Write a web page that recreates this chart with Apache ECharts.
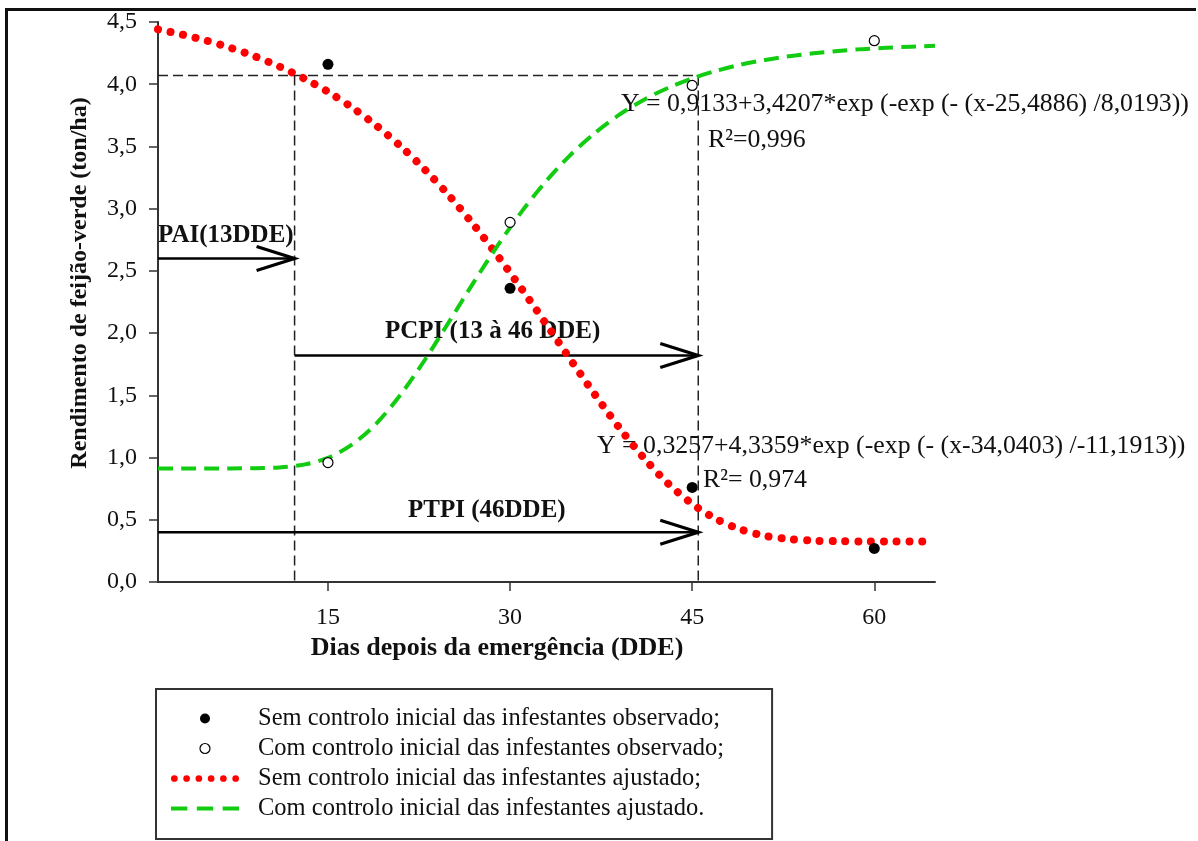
<!DOCTYPE html>
<html>
<head>
<meta charset="utf-8">
<script src="https://cdn.jsdelivr.net/npm/echarts@6/dist/echarts.min.js"></script>
<style>
html,body{margin:0;padding:0;background:#fff;}
#chart{width:1198px;height:841px;}
</style>
</head>
<body>
<div id="chart"></div>
<script>
// ---- data ----
const days = [1,3,5,7,9,11,13,15,17,19,21,23,25,27,29,31,33,35,37,39,41,43,45,47,49,51,53,55,57,59,61,63,65];
const semAjustado = [4.441,4.399,4.350,4.291,4.223,4.142,4.048,3.939,3.812,3.666,3.500,3.312,3.102,2.870,2.618,2.349,2.069,1.784,1.504,1.239,0.999,0.793,0.628,0.505,0.422,0.371,0.345,0.332,0.328,0.326,0.326,0.326,0.326];
const comAjustado = [0.913,0.913,0.913,0.913,0.915,0.921,0.943,0.998,1.105,1.275,1.508,1.788,2.095,2.408,2.707,2.982,3.225,3.434,3.609,3.755,3.874,3.970,4.047,4.108,4.157,4.195,4.225,4.249,4.267,4.282,4.293,4.302,4.309];
const obsDays = [15,30,45,60];
const semObservado = [4.16,2.36,0.76,0.27];
const comObservado = [0.96,2.89,3.99,4.35];
const xTicks = [15,30,45,60];
const yTicks = [0,0.5,1,1.5,2,2.5,3,3.5,4,4.5];
const yTickLabels = ['0,0','0,5','1,0','1,5','2,0','2,5','3,0','3,5','4,0','4,5'];
const seriesNames = [
  'Sem controlo inicial das infestantes observado;',
  'Com controlo inicial das infestantes observado;',
  'Sem controlo inicial das infestantes ajustado;',
  'Com controlo inicial das infestantes ajustado.'
];
// guide lines [x1, y1, x2, y2]
const guideSegments = [[1,4.07,45.5,4.07],[12.25,4.07,12.25,0],[45.5,4.07,45.5,0]];
// arrows [xStart, xEnd, y]
const arrowSegments = [[1,12.25,2.6],[12.25,45.5,1.82],[1,45.5,0.40]];
const annotations = {
  pai: 'PAI(13DDE)',
  pcpi: 'PCPI (13 à 46 DDE)',
  ptpi: 'PTPI (46DDE)',
  eq1: 'Y = 0,9133+3,4207*exp (-exp (- (x-25,4886) /8,0193))',
  r1: 'R²=0,996',
  eq2: 'Y = 0,3257+4,3359*exp (-exp (- (x-34,0403) /-11,1913))',
  r2: 'R²= 0,974'
};

const SERIF = '"Liberation Serif", "Times New Roman", serif';
const chart = echarts.init(document.getElementById('chart'), null, {renderer: 'canvas'});

function txt(text, x, y, font) {
  return {
    type: 'text', x: x, y: y, silent: true, z: 0,
    style: {text: text, font: font, fill: '#111', align: 'left', verticalAlign: 'middle',
            textAlign: 'left', textVerticalAlign: 'middle'}
  };
}

// legend icon shapes (style only)
function dotsPath() {
  let p = '';
  for (let i = 0; i < 6; i++) {
    const cx = 3.5 + i * 12.8;
    p += 'M' + (cx - 3.5) + ',3.5 a3.5,3.5 0 1,0 7,0 a3.5,3.5 0 1,0 -7,0 Z ';
  }
  return 'path://' + p;
}
const dashesPath = 'path://M0,0 L15.5,0 L15.5,4 L0,4 Z M24.5,0 L40,0 L40,4 L24.5,4 Z M49,0 L64.5,0 L64.5,4 L49,4 Z';

const option = {
  animation: false,
  backgroundColor: '#fff',
  tooltip: {show: false},
  grid: {left: 158, right: 263, top: 22, bottom: 259, containLabel: false, outerBoundsMode: 'none'},
  xAxis: {
    type: 'value', min: 1, max: 65,
    name: 'Dias depois da emergência (DDE)', nameLocation: 'middle', nameGap: 53,
    nameTextStyle: {fontFamily: SERIF, fontWeight: 'bold', fontSize: 26, color: '#111', padding: [0, 99, 0, 0]},
    axisLine: {show: true, onZero: false, lineStyle: {color: '#333', width: 2}},
    axisTick: {show: true, customValues: xTicks, length: 9, lineStyle: {color: '#333', width: 1.5}},
    axisLabel: {show: true, customValues: xTicks, margin: 24, fontFamily: SERIF, fontSize: 24, color: '#111'},
    splitLine: {show: false}
  },
  yAxis: {
    type: 'value', min: 0, max: 4.5, interval: 0.5,
    name: 'Rendimento de feijão-verde (ton/ha)', nameLocation: 'middle', nameGap: 66,
    nameTextStyle: {fontFamily: SERIF, fontWeight: 'bold', fontSize: 24, color: '#111', padding: [0, 0, 0, 38]},
    axisLine: {show: true, onZero: false, lineStyle: {color: '#333', width: 2}},
    axisTick: {show: true, length: 9, lineStyle: {color: '#333', width: 1.5}},
    axisLabel: {show: true, margin: 21, fontFamily: SERIF, fontSize: 24, color: '#111',
      formatter: function (v) { const i = yTicks.indexOf(Math.round(v * 10) / 10); return i >= 0 ? yTickLabels[i] : ''; }},
    splitLine: {show: false}
  },
  legend: {
    show: true, orient: 'vertical', left: 156, top: 689, width: 600, height: 130,
    padding: [17, 48, 18, 15], itemGap: 5, itemWidth: 68, itemHeight: 10,
    borderColor: '#333', borderWidth: 2, backgroundColor: '#fff',
    selectedMode: false, symbolKeepAspect: true,
    data: [
      {name: seriesNames[0], icon: 'circle', itemStyle: {color: '#000', borderWidth: 0}},
      {name: seriesNames[1], icon: 'circle', itemStyle: {color: '#fff', borderColor: '#000', borderWidth: 1.2}},
      {name: seriesNames[2], icon: dotsPath(), itemStyle: {color: '#ff0000', borderWidth: 0}},
      {name: seriesNames[3], icon: dashesPath, itemStyle: {color: '#11cc11', borderWidth: 0}}
    ],
    textStyle: {fontFamily: SERIF, fontSize: 24.5, color: '#111', lineHeight: 24, padding: [0, 0, 0, 14]}
  },
  graphic: [
    {type: 'line', silent: true, shape: {x1: 6.5, y1: 8, x2: 6.5, y2: 841}, style: {stroke: '#111', lineWidth: 3}},
    {type: 'line', silent: true, shape: {x1: 5, y1: 9.5, x2: 1196, y2: 9.5}, style: {stroke: '#111', lineWidth: 3}},
    txt(annotations.pai, 158, 236, 'bold 25px ' + SERIF),
    txt(annotations.pcpi, 385, 332, 'bold 25px ' + SERIF),
    txt(annotations.ptpi, 408, 511, 'bold 25px ' + SERIF),
    txt(annotations.eq1, 621, 104, '25.8px ' + SERIF),
    txt(annotations.r1, 708, 140, '25.8px ' + SERIF),
    txt(annotations.eq2, 597, 446, '25.8px ' + SERIF),
    txt(annotations.r2, 703, 480, '25.8px ' + SERIF)
  ],
  series: [
    {
      type: 'custom', name: 'guides', silent: true, clip: false, z: 1,
      data: guideSegments, encode: {x: [0, 2], y: [1, 3]},
      renderItem: function (params, api) {
        const a = api.coord([api.value(0), api.value(1)]);
        const b = api.coord([api.value(2), api.value(3)]);
        return {type: 'line', shape: {x1: a[0], y1: a[1], x2: b[0], y2: b[1]},
                style: {stroke: '#222', lineWidth: 1.5, lineDash: [10, 5], fill: null}};
      }
    },
    {
      type: 'custom', name: 'arrows', silent: true, clip: false, z: 1,
      data: arrowSegments, encode: {x: [0, 1], y: 2},
      renderItem: function (params, api) {
        const p0 = api.coord([api.value(0), api.value(2)]);
        const p1 = api.coord([api.value(1), api.value(2)]);
        return {type: 'group', children: [
          {type: 'line', shape: {x1: p0[0], y1: p0[1], x2: p1[0], y2: p1[1]}, style: {stroke: '#000', lineWidth: 2.5}},
          {type: 'polyline', shape: {points: [[p1[0] - 38, p1[1] - 12], [p1[0], p1[1]], [p1[0] - 38, p1[1] + 12]]},
           style: {stroke: '#000', lineWidth: 3.2, fill: null}}
        ]};
      }
    },
    {
      name: seriesNames[2], type: 'line', z: 3,
      data: days.map(function (d, i) { return [d, semAjustado[i]]; }),
      symbol: 'none', showSymbol: false, smooth: 0.3,
      lineStyle: {color: '#ff0000', width: 8, type: [0.01, 12.8], cap: 'round'},
      itemStyle: {color: '#ff0000'},
      emphasis: {disabled: true}
    },
    {
      name: seriesNames[3], type: 'line', z: 3,
      data: days.map(function (d, i) { return [d, comAjustado[i]]; }),
      symbol: 'none', showSymbol: false, smooth: 0.3,
      lineStyle: {color: '#11cc11', width: 4, type: [15, 8]},
      itemStyle: {color: '#11cc11'},
      emphasis: {disabled: true}
    },
    {
      name: seriesNames[0], type: 'scatter', z: 5,
      data: obsDays.map(function (d, i) { return [d, semObservado[i]]; }),
      symbol: 'circle', symbolSize: 11,
      itemStyle: {color: '#000', opacity: 1},
      emphasis: {disabled: true}
    },
    {
      name: seriesNames[1], type: 'scatter', z: 5,
      data: obsDays.map(function (d, i) { return [d, comObservado[i]]; }),
      symbol: 'circle', symbolSize: 10,
      itemStyle: {color: '#fff', borderColor: '#000', borderWidth: 1.2, opacity: 1},
      emphasis: {disabled: true}
    }
  ]
};
chart.setOption(option);
</script>
</body>
</html>
